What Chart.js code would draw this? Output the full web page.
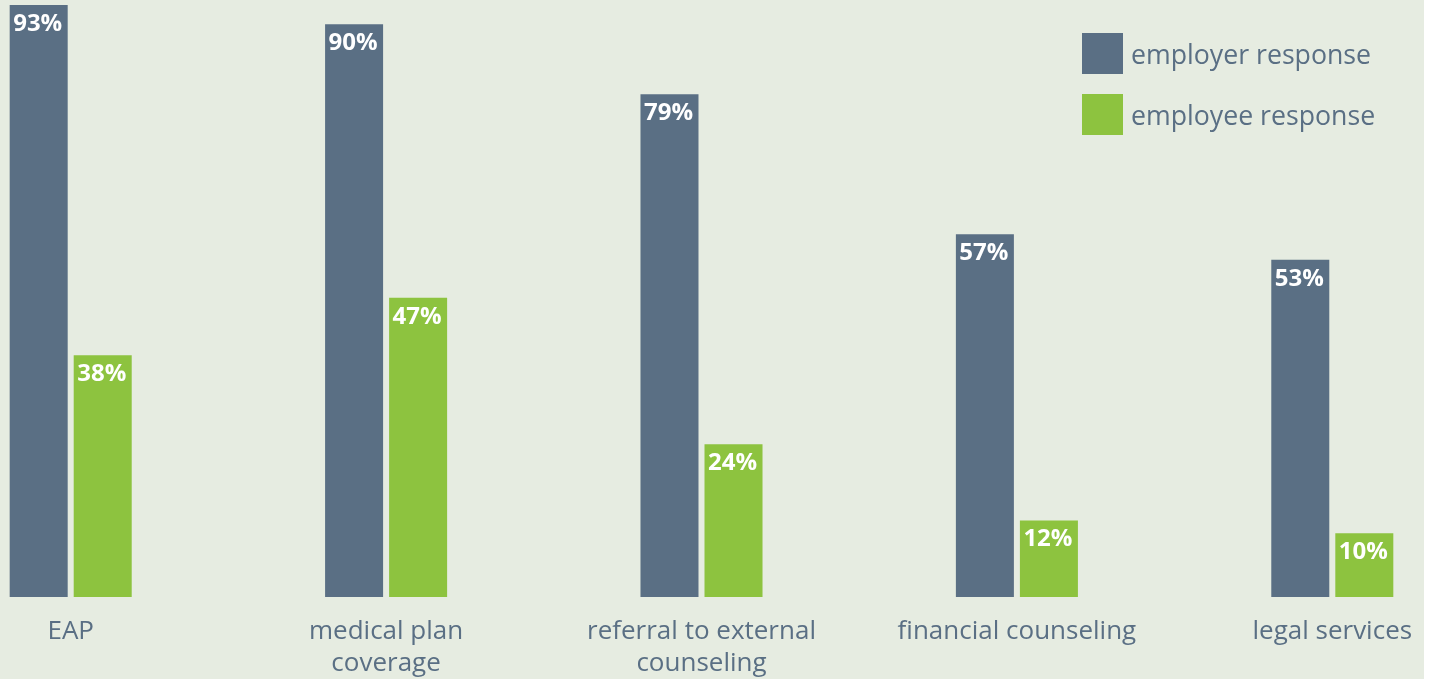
<!DOCTYPE html>
<html>
<head>
<meta charset="utf-8">
<script src="https://cdn.jsdelivr.net/npm/chart.js@4"></script>
<style>
    html, body { margin: 0; padding: 0; background: #ffffff; overflow: hidden; }
    #bg { position: absolute; left: 0; top: 0; width: 1424px; height: 679px; background: #e6ece1; }
    #wrap { position: absolute; left: -87px; top: 0; width: 1577px; height: 679px; }
    .legend { position: absolute; left: 1082px; font-family: "Open Sans", sans-serif; font-size: 26.7px; color: #5a6f84; }
    .legend .row { position: absolute; left: 0; white-space: nowrap; height: 41px; }
    .legend .box { position: absolute; left: 0; top: 0; width: 41px; height: 41px; }
    .legend .txt { position: absolute; left: 49px; top: 0; line-height: 41px; }
</style>
</head>
<body>
<div id="bg"></div>
<div id="wrap"><canvas id="benefitChart"></canvas></div>
<div class="legend" id="legend"></div>
<script>
const categories = ["EAP", ["medical plan", "coverage"], ["referral to external", "counseling"], "financial counseling", "legal services"];
const employerValues = [93, 90, 79, 57, 53];
const employeeValues = [38, 47, 24, 12, 10];
const seriesNames = ["employer response", "employee response"];
const seriesColors = ["#5a6f84", "#8dc33f"];

// white percentage labels just inside the top of each bar
const barLabels = {
    id: "barLabels",
    afterDatasetsDraw(chart) {
        const ctx = chart.ctx;
        ctx.save();
        ctx.fillStyle = "#ffffff";
        ctx.font = "bold 24px 'Open Sans'";
        ctx.textAlign = "center";
        ctx.textBaseline = "middle";
        chart.data.datasets.forEach((ds, i) => {
            chart.getDatasetMeta(i).data.forEach((bar, j) => {
                ctx.fillText(ds.data[j] + "%", bar.x - 1, bar.y + 19);
            });
        });
        ctx.restore();
    }
};

const ctx = document.getElementById("benefitChart").getContext("2d");
new Chart(ctx, {
    type: "bar",
    data: {
        labels: categories,
        datasets: [
            { label: seriesNames[0], data: employerValues, backgroundColor: seriesColors[0] },
            { label: seriesNames[1], data: employeeValues, backgroundColor: seriesColors[1] }
        ]
    },
    options: {
        responsive: true,
        maintainAspectRatio: false,
        animation: false,
        layout: { padding: 0 },
        datasets: { bar: { barPercentage: 0.906, categoryPercentage: 0.406 } },
        plugins: { legend: { display: false }, tooltip: { enabled: false } },
        scales: {
            x: {
                grid: { display: false },
                border: { display: false },
                afterFit: (s) => { s.height = 82; },
                ticks: {
                    color: "#5a6f84",
                    padding: 11,
                    maxRotation: 0,
                    autoSkip: false,
                    font: { family: "Open Sans", size: 26, lineHeight: 1.23 }
                }
            },
            y: { display: false, min: 0, max: 93.8 }
        }
    },
    plugins: [barLabels]
});

// legend
const legend = document.getElementById("legend");
seriesNames.forEach((name, i) => {
    const row = document.createElement("div");
    row.className = "row";
    row.style.top = (33 + i * 61) + "px";
    row.innerHTML = `<div class="box" style="background:${seriesColors[i]}"></div><div class="txt">${name}</div>`;
    legend.appendChild(row);
});
</script>
</body>
</html>
